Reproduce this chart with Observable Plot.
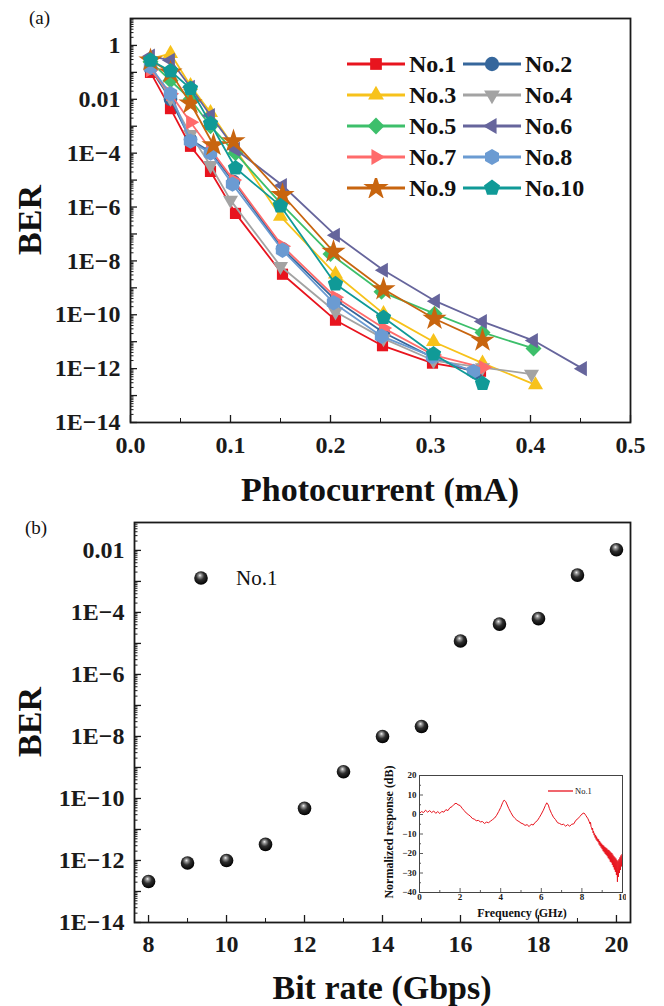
<!DOCTYPE html>
<html><head><meta charset="utf-8">
<script src="https://cdn.jsdelivr.net/npm/d3@7"></script>
<script src="https://cdn.jsdelivr.net/npm/@observablehq/plot@0.6"></script>
<style>
body{margin:0;background:#fff;}
#page{position:relative;width:664px;height:1006px;overflow:hidden;font-family:"Liberation Serif","Times New Roman",serif;color:#111;}
#page svg{position:absolute;}
#page svg text{font-family:"Liberation Serif","Times New Roman",serif !important;}
.t{position:absolute;white-space:nowrap;line-height:1;font-family:"Liberation Serif","Times New Roman",serif;}
</style></head><body><div id="page"></div>
<script>
// ---------------- DATA ----------------
const seriesNames = ["No.1","No.2","No.3","No.4","No.5","No.6","No.7","No.8","No.9","No.10"];
const seriesColors = ["#e8141e","#36679c","#f7c21b","#a3a3a3","#3dbf6b","#66659c","#ff6b6b","#6b9bd2","#c8650f","#109a97"];

const photocurrent1 = [0.02,0.04,0.06,0.08,0.105,0.152,0.205,0.252,0.302,0.35];
const ber1 = [1e-1,4.5e-3,1.8e-4,2.1e-5,5.8e-7,3.2e-9,6.3e-11,7.1e-12,1.6e-12,8e-13];
const photocurrent2 = [0.02,0.04,0.06,0.08,0.103,0.152,0.205,0.253,0.303,0.345];
const ber2 = [0.14,1e-2,3.2e-4,1.1e-4,8.9e-6,2.8e-8,3.5e-10,2.2e-11,2.5e-12,7.1e-13];
const photocurrent3 = [0.02,0.04,0.06,0.08,0.105,0.15,0.205,0.253,0.303,0.352,0.405];
const ber3 = [0.32,0.5,3.2e-2,3.2e-3,1.4e-4,4.5e-7,3.2e-9,1.1e-10,1e-11,1.6e-12,2.5e-13];
const photocurrent4 = [0.02,0.04,0.06,0.08,0.10,0.15,0.205,0.253,0.303,0.352,0.401];
const ber4 = [0.18,1.1e-2,5e-4,3.5e-5,1.8e-6,6.3e-9,1.3e-10,1.3e-11,2e-12,1.1e-12,6.3e-13];
const photocurrent5 = [0.02,0.04,0.06,0.08,0.105,0.15,0.2,0.251,0.304,0.352,0.403];
const ber5 = [0.25,5e-2,1e-2,1e-3,1e-4,1.4e-6,1.8e-8,7.1e-10,1.1e-10,2.2e-11,5.6e-12];
const photocurrent6 = [0.02,0.04,0.06,0.08,0.105,0.152,0.205,0.253,0.305,0.352,0.403,0.452];
const ber6 = [0.4,0.28,2.8e-2,2.5e-3,1.4e-4,6.3e-6,8.9e-8,4.5e-9,3.2e-10,5.6e-11,1.1e-11,1e-12];
const photocurrent7 = [0.02,0.04,0.06,0.08,0.103,0.152,0.205,0.253,0.303,0.353];
const ber7 = [0.126,1.6e-2,1.4e-3,1.4e-4,1e-5,3.5e-8,4.5e-10,3.2e-11,3.2e-12,1.1e-12];
const photocurrent8 = [0.02,0.04,0.06,0.08,0.102,0.152,0.203,0.251,0.302,0.343];
const ber8 = [0.16,1.6e-2,2.8e-4,1e-4,7.1e-6,2.5e-8,2.8e-10,1.6e-11,2.8e-12,7.9e-13];
const photocurrent9 = [0.02,0.04,0.06,0.083,0.103,0.152,0.203,0.253,0.304,0.352];
const ber9 = [0.28,0.1,7.1e-3,2e-4,2.8e-4,2.8e-6,2.2e-8,8.9e-10,7.1e-11,1.1e-11];
const photocurrent10 = [0.02,0.04,0.06,0.08,0.105,0.15,0.205,0.253,0.303,0.352];
const ber10 = [0.28,0.112,2.5e-2,1.26e-3,2.8e-5,1.1e-6,1.4e-9,7.9e-11,3.5e-12,2.8e-13];

const topXTicks = [0,0.1,0.2,0.3,0.4,0.5];
const topXTickLabels = ["0.0","0.1","0.2","0.3","0.4","0.5"];
const topYTicks = [1,1e-2,1e-4,1e-6,1e-8,1e-10,1e-12,1e-14];
const topYTickLabels = ["1","0.01","1E\u22124","1E\u22126","1E\u22128","1E\u221210","1E\u221212","1E\u221214"];

const bitRate = [8,9,10,11,12,13,14,15,16,17,18,19,20];
const berBitRate = [2.1e-13,8.3e-13,1e-12,3.3e-12,4.8e-11,7.3e-10,1e-8,2.1e-8,1.2e-5,4.2e-5,6.3e-5,1.6e-3,1.05e-2];
const botXTicks = [8,10,12,14,16,18,20];
const botXTickLabels = ["8","10","12","14","16","18","20"];
const botYTicks = [1e-2,1e-4,1e-6,1e-8,1e-10,1e-12,1e-14];
const botYTickLabels = ["0.01","1E\u22124","1E\u22126","1E\u22128","1E\u221210","1E\u221212","1E\u221214"];

const freqGHz = [0,0.1,0.2,0.3,0.4,0.5,0.6,0.7,0.8,0.9,1.0,1.1,1.2,1.3,1.4,1.5,1.6,1.7,1.8,1.9,2.0,2.1,2.2,2.3,2.4,2.5,2.6,2.7,2.8,2.9,3.0,3.1,3.2,3.3,3.4,3.5,3.6,3.7,3.8,3.9,4.0,4.1,4.17,4.25,4.3,4.4,4.5,4.6,4.7,4.8,4.9,5.0,5.1,5.2,5.3,5.4,5.5,5.6,5.7,5.8,5.9,6.0,6.1,6.2,6.27,6.35,6.4,6.5,6.6,6.7,6.8,6.9,7.0,7.1,7.2,7.3,7.4,7.5,7.6,7.7,7.8,7.9,8.0,8.1,8.15,8.2,8.3,8.35,
 8.4,8.425,8.45,8.475,8.5,8.525,8.55,8.575,8.6,8.625,8.65,8.675,8.7,8.725,8.75,8.775,8.8,8.825,8.85,8.875,8.9,8.925,8.95,8.975,9.0,9.025,9.05,9.075,9.1,9.125,9.15,9.175,9.2,9.225,9.25,9.275,9.3,9.325,9.35,9.375,9.4,9.425,9.45,9.475,9.5,9.525,9.55,9.575,9.6,9.625,9.65,9.675,9.7,9.725,9.75,9.775,9.8,9.825,9.85,9.875,9.9,9.925,9.95,9.975,10.0];
const responseDb = [0.5,1.5,1.0,2.2,1.2,2.0,1.0,1.8,0.6,1.5,0.5,1.6,1.2,2.5,2.0,3.5,4.0,5.2,5.8,5.0,4.6,3.2,2.0,0.8,0.0,-0.8,-2.0,-2.4,-3.2,-3.0,-3.8,-3.6,-4.6,-3.9,-4.2,-3.4,-2.6,-1.8,-0.4,1.5,3.6,6.2,7.4,6.6,5.4,3.0,1.0,-0.8,-2.0,-3.0,-3.6,-4.4,-4.8,-5.6,-5.2,-6.2,-5.0,-5.4,-4.0,-3.2,-1.6,0.2,2.2,4.6,6.0,4.8,3.0,0.6,-1.4,-2.6,-4.2,-4.6,-5.2,-5.0,-6.0,-5.2,-6.0,-5.0,-4.8,-3.0,-2.2,-1.0,0.2,0.8,0.2,-0.6,-2.2,-3.4,
 -4.8,-4.0,-6.2,-6.8,-7.8,-7.0,-9.4,-8.6,-10.6,-9.8,-11.8,-10.6,-12.8,-11.4,-13.6,-12.4,-14.2,-12.8,-15.4,-13.6,-16.2,-14.4,-17.0,-15.0,-17.8,-15.6,-18.8,-16.0,-19.4,-16.6,-20.2,-17.0,-20.8,-17.4,-21.4,-18.0,-22.4,-18.2,-23.0,-18.8,-24.2,-19.4,-24.6,-19.8,-25.8,-20.6,-27.0,-21.4,-28.2,-22.0,-29.4,-22.6,-31.0,-23.4,-34.5,-24.0,-32.0,-23.0,-30.0,-22.0,-28.4,-21.0,-26.6,-20.4,-21.0];
const insetXTicks = [0,2,4,6,8,10];
const insetYTicks = [20,10,0,-10,-20,-30,-40];
const insetYTickLabels = ["20","10","0","\u221210","\u221220","\u221230","\u221240"];

// ---------------- SYMBOLS ----------------
const sqrt3 = Math.sqrt(3);
function rotTriangle(rot){
  return {draw(ctx, size){
    const y = -Math.sqrt(size / (sqrt3 * 3));
    const pts = [[0, y * 2], [-sqrt3 * y, -y], [sqrt3 * y, -y]];
    const c = Math.cos(rot), s = Math.sin(rot);
    pts.forEach(([px, py], i) => { const X = px * c - py * s, Y = px * s + py * c; i ? ctx.lineTo(X, Y) : ctx.moveTo(X, Y); });
    ctx.closePath();
  }};
}
const pentagon = {draw(ctx, size){
  const R = Math.sqrt(size / 2.3776);
  for (let i = 0; i < 5; i++){ const a = -Math.PI / 2 + i * 2 * Math.PI / 5; const X = R * Math.cos(a), Y = R * Math.sin(a); i ? ctx.lineTo(X, Y) : ctx.moveTo(X, Y); }
  ctx.closePath();
}};
const hexagon = {draw(ctx, size){
  const R = Math.sqrt(size / 2.598);
  for (let i = 0; i < 6; i++){ const a = -Math.PI / 2 + i * Math.PI / 3; const X = R * Math.cos(a), Y = R * Math.sin(a); i ? ctx.lineTo(X, Y) : ctx.moveTo(X, Y); }
  ctx.closePath();
}};
const seriesSymbols = [d3.symbolSquare, d3.symbolCircle, rotTriangle(0), rotTriangle(Math.PI), d3.symbolDiamond2, rotTriangle(-Math.PI/2), rotTriangle(Math.PI/2), hexagon, d3.symbolStar, pentagon];
const seriesR = [6.3, 6.8, 5.6, 5.6, 7.2, 5.6, 5.6, 7.0, 7.6, 7.0];

const photocurrents = [photocurrent1,photocurrent2,photocurrent3,photocurrent4,photocurrent5,photocurrent6,photocurrent7,photocurrent8,photocurrent9,photocurrent10];
const bers = [ber1,ber2,ber3,ber4,ber5,ber6,ber7,ber8,ber9,ber10];

// ---------------- HELPERS ----------------
const page = document.getElementById("page");
function addText(str, css){ const d = document.createElement("div"); d.className = "t"; d.textContent = str; d.style.cssText += css; page.appendChild(d); return d; }
function placeSvg(svg, left, top){ svg.style.left = left + "px"; svg.style.top = top + "px"; svg.style.fontFamily = FONT; page.appendChild(svg); }
const FONT = "'Liberation Serif','Times New Roman',serif";
const INK = "#1a1a1a";

function logTicks(kMin, kMax, maxVal){
  const major = [], minor = [];
  for (let k = kMin; k <= kMax; k++){
    major.push(10 ** k);
    for (let m = 2; m <= 9; m++){ const v = m * 10 ** k; if (v < maxVal) minor.push(v); }
  }
  return {major, minor};
}

// ---------------- TOP CHART ----------------
{
  const W = 664, H = 500, mL = 130, mR = 34, mT = 18, mB = 78;
  const xDom = [0, 0.5], yDom = [1e-14, 10];
  const pxX = (W - mL - mR) / (xDom[1] - xDom[0]);
  const pxDec = (H - mT - mB) / 15;
  const lt = logTicks(-14, 0, 10);
  const xMinor = [0.05,0.15,0.25,0.35,0.45];
  const marks = [
    Plot.ruleY(lt.major, {x1: 0, x2: 7 / pxX, stroke: INK, strokeWidth: 1.3}),
    Plot.ruleY(lt.minor, {x1: 0, x2: 3.5 / pxX, stroke: INK, strokeWidth: 1}),
    Plot.ruleX(topXTicks, {y1: 1e-14, y2: 1e-14 * 10 ** (7 / pxDec), stroke: INK, strokeWidth: 1.3}),
    Plot.ruleX(xMinor, {y1: 1e-14, y2: 1e-14 * 10 ** (4 / pxDec), stroke: INK, strokeWidth: 1}),
    Plot.axisY({ticks: topYTicks, tickFormat: d => topYTickLabels[topYTicks.indexOf(d)], tickSize: 0, tickPadding: 10, label: null}),
    Plot.axisX({ticks: topXTicks, tickFormat: d => topXTickLabels[topXTicks.indexOf(d)], tickSize: 0, tickPadding: 13, label: null})
  ];
  for (let i = 0; i < 10; i++){
    const rows = photocurrents[i].map((x, j) => ({x, y: bers[i][j]}));
    marks.push(Plot.line(rows, {x: "x", y: "y", stroke: seriesColors[i], strokeWidth: 1.8}));
    marks.push(Plot.dot(rows, {x: "x", y: "y", symbol: seriesSymbols[i], r: seriesR[i], fill: seriesColors[i], stroke: "none"}));
  }
  marks.push(Plot.frame({stroke: INK, strokeWidth: 1.8}));
  const svg = Plot.plot({
    width: W, height: H, marginTop: mT, marginBottom: mB, marginLeft: mL, marginRight: mR,
    style: {fontFamily: FONT, fontSize: "24px", fontWeight: "bold", color: INK, background: "transparent"},
    x: {domain: xDom}, y: {type: "log", domain: yDom},
    marks
  });
  placeSvg(svg, 0, 0);

  addText("(a)", `left:29px;top:17px;transform:translateY(-50%);font-size:19px;`);
  addText("BER", `left:30px;top:220px;transform:translate(-50%,-50%) rotate(-90deg);font-size:34px;font-weight:bold;`);
  addText("Photocurrent (mA)", `left:380px;top:490px;transform:translate(-50%,-50%);font-size:34px;font-weight:bold;`);

  // legend
  const colX = [347, 463], row0 = 64, rowStep = 31;
  seriesNames.forEach((name, i) => {
    const col = i % 2, row = Math.floor(i / 2);
    const x0 = colX[col], yc = row0 + row * rowStep;
    const ns = "http://www.w3.org/2000/svg";
    const s = document.createElementNS(ns, "svg");
    s.setAttribute("width", 60); s.setAttribute("height", 20);
    s.style.left = x0 + "px"; s.style.top = (yc - 10) + "px";
    const ln = document.createElementNS(ns, "line");
    ln.setAttribute("x1", 0); ln.setAttribute("x2", 58); ln.setAttribute("y1", 10); ln.setAttribute("y2", 10);
    ln.setAttribute("stroke", seriesColors[i]); ln.setAttribute("stroke-width", 2.8);
    s.appendChild(ln);
    const p = document.createElementNS(ns, "path");
    const r = seriesR[i] * 1.05;
    p.setAttribute("d", d3.symbol(seriesSymbols[i], Math.PI * r * r)());
    p.setAttribute("transform", "translate(29,10)");
    p.setAttribute("fill", seriesColors[i]);
    s.appendChild(p);
    page.appendChild(s);
    addText(name, `left:${x0 + 62}px;top:${yc}px;transform:translateY(-50%);font-size:24px;font-weight:bold;`);
  });
}

// ---------------- BOTTOM CHART ----------------
{
  const W = 664, H = 506, mL = 134, mR = 34, mT = 22, mB = 84, top = 500;
  const xDom = [7.64, 20.36], yDom = [1e-14, 10 ** -1.1];
  const pxX = (W - mL - mR) / (xDom[1] - xDom[0]);
  const pxDec = (H - mT - mB) / 12.9;
  const lt = logTicks(-14, -2, 10 ** -1.1);
  const xMinor = [9,11,13,15,17,19];
  const svg = Plot.plot({
    width: W, height: H, marginTop: mT, marginBottom: mB, marginLeft: mL, marginRight: mR,
    style: {fontFamily: FONT, fontSize: "24px", fontWeight: "bold", color: INK, background: "transparent"},
    x: {domain: xDom}, y: {type: "log", domain: yDom},
    marks: [
      Plot.ruleY(lt.major, {x1: xDom[0], x2: xDom[0] + 7 / pxX, stroke: INK, strokeWidth: 1.3}),
      Plot.ruleY(lt.minor, {x1: xDom[0], x2: xDom[0] + 3.5 / pxX, stroke: INK, strokeWidth: 1}),
      Plot.ruleX(botXTicks, {y1: 1e-14, y2: 1e-14 * 10 ** (7 / pxDec), stroke: INK, strokeWidth: 1.3}),
      Plot.ruleX(xMinor, {y1: 1e-14, y2: 1e-14 * 10 ** (4 / pxDec), stroke: INK, strokeWidth: 1}),
      Plot.axisY({ticks: botYTicks, tickFormat: d => botYTickLabels[botYTicks.indexOf(d)], tickSize: 0, tickPadding: 10, label: null}),
      Plot.axisX({ticks: botXTicks, tickFormat: d => botXTickLabels[botXTicks.indexOf(d)], tickSize: 0, tickPadding: 12, label: null}),
      Plot.dot(bitRate.map((x, i) => ({x, y: berBitRate[i]})), {x: "x", y: "y", r: 6.8, fill: "url(#ballGrad)", stroke: "none"}),
      Plot.frame({stroke: INK, strokeWidth: 1.8})
    ]
  });
  const gradDefs = `<radialGradient id="ballGrad" cx="0.45" cy="0.4" r="0.6" fx="0.42" fy="0.3">
      <stop offset="0" stop-color="#f4f4f4"/><stop offset="0.18" stop-color="#9a9a9a"/>
      <stop offset="0.5" stop-color="#2e2e2e"/><stop offset="1" stop-color="#000"/></radialGradient>`;
  d3.select(svg).insert("defs", ":first-child").html(gradDefs);
  placeSvg(svg, 0, top);

  addText("(b)", `left:25px;top:527px;transform:translateY(-50%);font-size:19px;`);
  addText("BER", `left:30px;top:722px;transform:translate(-50%,-50%) rotate(-90deg);font-size:34px;font-weight:bold;`);
  addText("Bit rate (Gbps)", `left:382px;top:988px;transform:translate(-50%,-50%);font-size:34px;font-weight:bold;`);

  // legend (ball + text)
  const ns = "http://www.w3.org/2000/svg";
  const s = document.createElementNS(ns, "svg");
  s.setAttribute("width", 20); s.setAttribute("height", 20);
  s.style.left = "191px"; s.style.top = "568px";
  s.innerHTML = `<defs>${gradDefs.replace('ballGrad','ballGrad2')}</defs><circle cx="10" cy="10" r="6.8" fill="url(#ballGrad2)"/>`;
  page.appendChild(s);
  addText("No.1", `left:236px;top:578px;transform:translateY(-50%);font-size:21px;`);
}

// ---------------- INSET ----------------
{
  const W = 246, H = 150, mL = 39, mR = 4, mT = 10, mB = 23, left = 380, top = 765;
  const xMinor = [1,3,5,7,9];
  const yMinor = [15,5,-5,-15,-25,-35];
  const pxX = (W - mL - mR) / 10, pxY = (H - mT - mB) / 60;
  const svg = Plot.plot({
    width: W, height: H, marginTop: mT, marginBottom: mB, marginLeft: mL, marginRight: mR,
    style: {fontFamily: FONT, fontSize: "9px", fontWeight: "bold", color: INK, background: "transparent"},
    x: {domain: [0, 10]}, y: {domain: [-40, 20]},
    marks: [
      Plot.ruleY(insetYTicks, {x1: 0, x2: 4 / pxX, stroke: "#333", strokeWidth: 0.8}),
      Plot.ruleY(yMinor, {x1: 0, x2: 2 / pxX, stroke: "#333", strokeWidth: 0.8}),
      Plot.ruleX(insetXTicks, {y1: -40, y2: -40 + 4 / pxY, stroke: "#333", strokeWidth: 0.8}),
      Plot.ruleX(xMinor, {y1: -40, y2: -40 + 2 / pxY, stroke: "#333", strokeWidth: 0.8}),
      Plot.axisY({ticks: insetYTicks, tickFormat: d => insetYTickLabels[insetYTicks.indexOf(d)], tickSize: 0, tickPadding: 3, label: null}),
      Plot.axisX({ticks: insetXTicks, tickSize: 0, tickPadding: 1, label: null}),
      Plot.line(freqGHz.map((f, i) => ({f, v: responseDb[i]})), {x: "f", y: "v", stroke: "#e8141e", strokeWidth: 1}),
      Plot.frame({stroke: "#444", strokeWidth: 1})
    ]
  });
  placeSvg(svg, left, top);
  addText("Frequency (GHz)", `left:522px;top:913px;transform:translate(-50%,-50%);font-size:12px;font-weight:bold;`);
  addText("Normalized response (dB)", `left:389px;top:832px;transform:translate(-50%,-50%) rotate(-90deg);font-size:12px;font-weight:bold;`);
  const ns = "http://www.w3.org/2000/svg";
  const s = document.createElementNS(ns, "svg");
  s.setAttribute("width", 26); s.setAttribute("height", 6);
  s.style.left = "548px"; s.style.top = "788px";
  s.innerHTML = `<line x1="0" x2="25" y1="3" y2="3" stroke="#e8141e" stroke-width="1.3"/>`;
  page.appendChild(s);
  addText("No.1", `left:575px;top:791px;transform:translateY(-50%);font-size:8.5px;`);
}
</script></body></html>
